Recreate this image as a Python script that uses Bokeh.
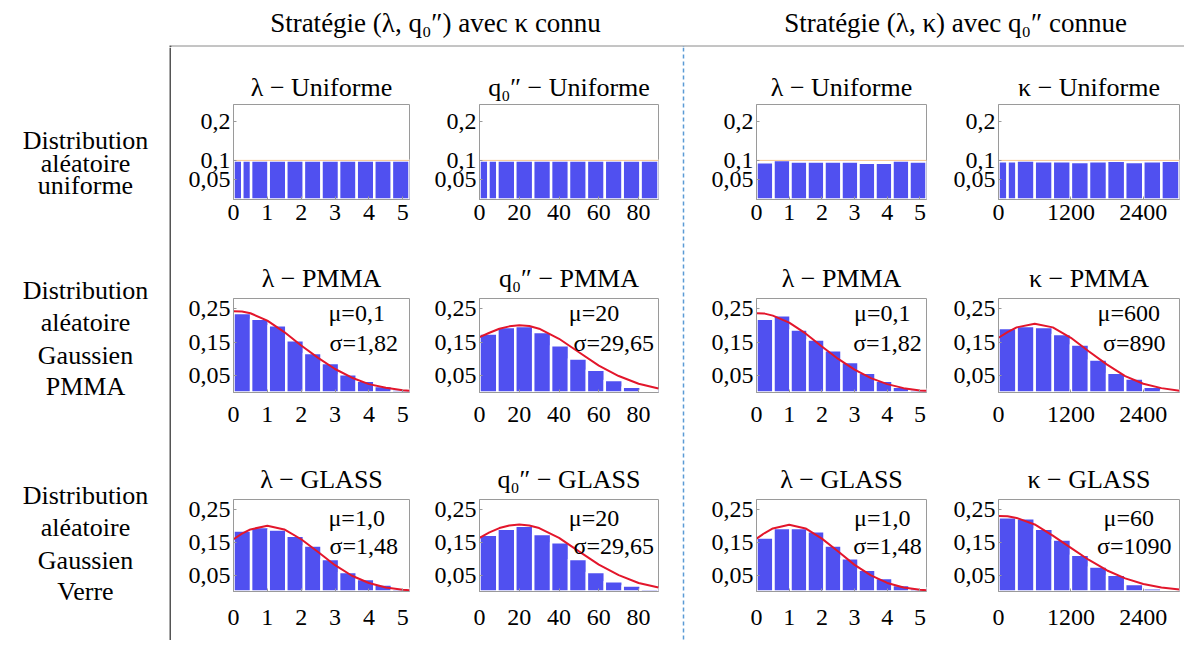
from bokeh.plotting import figure
from bokeh.layouts import row, column
from bokeh.models import Range1d, FixedTicker, CustomJSTickFormatter, Label
from bokeh.embed import file_html
from bokeh.resources import INLINE

FONT = "Liberation Serif"
BLUE = "#5050f0"
RED = "#e3162b"
GRAY = "#9a9a9a"

# ---------------- data ----------------
header_texts = ["Stratégie (λ, q₀″) avec κ connu", "Stratégie (λ, κ) avec q₀″ connue"]
row_labels = [["Distribution", "aléatoire", "uniforme"],
              ["Distribution", "aléatoire", "Gaussien", "PMMA"],
              ["Distribution", "aléatoire", "Gaussien", "Verre"]]

lam_edges = [0, 0.52, 1.04, 1.56, 2.08, 2.6, 3.12, 3.64, 4.16, 4.68, 5.2]
lam_edges_split = [0, 0.26, 0.52, 1.04, 1.56, 2.08, 2.6, 3.12, 3.64, 4.16, 4.68, 5.2]
q_edges = [0, 9, 18, 27, 36, 45, 54, 63, 72, 81, 90]
q_edges_split = [0, 4.5, 9, 18, 27, 36, 45, 54, 63, 72, 81, 90]
k_edges = [0, 300, 600, 900, 1200, 1500, 1800, 2100, 2400, 2700, 3000]
k_edges_split = [0, 150, 300, 600, 900, 1200, 1500, 1800, 2100, 2400, 2700, 3000]

lam_ticks = [0, 1, 2, 3, 4, 5]
q_ticks = [0, 20, 40, 60, 80]
k_ticks = [0, 1200, 2400]

uni_lam_l = [0.1, 0.1, 0.1, 0.1, 0.1, 0.1, 0.1, 0.1, 0.1, 0.1, 0.1]
uni_q = [0.1, 0.1, 0.1, 0.1, 0.1, 0.1, 0.1, 0.1, 0.1, 0.1, 0.1]
uni_lam_r = [0.095, 0.101, 0.097, 0.097, 0.097, 0.097, 0.094, 0.094, 0.1, 0.097]
uni_k = [0.098, 0.098, 0.1, 0.098, 0.098, 0.096, 0.098, 0.099, 0.096, 0.098, 0.099]

pmma_lam_l = [0.237, 0.220, 0.200, 0.156, 0.118, 0.088, 0.054, 0.035, 0.019, 0.009]
pmma_q = [0.176, 0.195, 0.198, 0.180, 0.141, 0.101, 0.068, 0.037, 0.017, 0.007]
pmma_lam_r = [0.220, 0.230, 0.188, 0.158, 0.126, 0.091, 0.059, 0.035, 0.017, 0.009]
pmma_k = [0.192, 0.198, 0.195, 0.174, 0.143, 0.098, 0.059, 0.042, 0.017, 0.007]

glass_lam_l = [0.186, 0.196, 0.189, 0.170, 0.140, 0.099, 0.059, 0.038, 0.021, 0.008]
glass_q = [0.173, 0.191, 0.200, 0.175, 0.150, 0.099, 0.059, 0.031, 0.018, 0.008]
glass_lam_r = [0.164, 0.193, 0.193, 0.183, 0.140, 0.101, 0.066, 0.041, 0.020, 0.010]
glass_k = [0.226, 0.223, 0.191, 0.158, 0.112, 0.076, 0.051, 0.023, 0.010, 0.006]

uni_pdf = [0.1, 0.1]

lam_curve_x = [0, 0.25, 0.5, 1, 1.5, 2, 2.5, 3, 3.5, 4, 4.5, 5, 5.2]
q_curve_x = [0, 5, 10, 15, 20, 25, 30, 40, 50, 60, 70, 80, 90]
k_curve_x = [0, 150, 300, 600, 900, 1200, 1500, 1800, 2100, 2400, 2700, 3000]

pmma_lam_l_fit = [0.242, 0.241, 0.236, 0.214, 0.18, 0.14, 0.103, 0.07, 0.044, 0.025, 0.014, 0.007, 0.005]
pmma_q_fit = [0.165, 0.178, 0.19, 0.197, 0.2, 0.198, 0.19, 0.16, 0.12, 0.08, 0.049, 0.026, 0.012]
pmma_lam_r_fit = [0.236, 0.235, 0.229, 0.208, 0.176, 0.137, 0.1, 0.068, 0.043, 0.025, 0.013, 0.006, 0.005]
pmma_k_fit = [0.163, 0.18, 0.194, 0.205, 0.194, 0.163, 0.122, 0.083, 0.049, 0.026, 0.013, 0.005]

glass_lam_l_fit = [0.159, 0.176, 0.189, 0.2, 0.189, 0.159, 0.120, 0.080, 0.048, 0.026, 0.012, 0.005, 0.004]
glass_q_fit = [0.163, 0.18, 0.193, 0.201, 0.204, 0.201, 0.193, 0.163, 0.122, 0.082, 0.05, 0.026, 0.012]
glass_lam_r_fit = [0.161, 0.178, 0.192, 0.203, 0.192, 0.161, 0.122, 0.081, 0.049, 0.026, 0.012, 0.005, 0.004]
glass_k_fit = [0.23, 0.229, 0.224, 0.204, 0.17, 0.133, 0.096, 0.064, 0.04, 0.023, 0.012, 0.006]

pmma_stats = [("μ=0,1", "σ=1,82"), ("μ=20", "σ=29,65"), ("μ=0,1", "σ=1,82"), ("μ=600", "σ=890")]
glass_stats = [("μ=1,0", "σ=1,48"), ("μ=20", "σ=29,65"), ("μ=1,0", "σ=1,48"), ("μ=60", "σ=1090")]

# ---------------- layout parameters ----------------
cols = [
    dict(w=247, ml=62, mr=9, xr=(0, 5.2), ticks=lam_ticks, mu_fx=0.70, sg_fx=0.74),
    dict(w=262, ml=61, mr=22, xr=(0, 90), ticks=q_ticks, mu_fx=0.64, sg_fx=0.75),
    dict(w=249, ml=70, mr=9, xr=(0, 5.2), ticks=lam_ticks, mu_fx=0.74, sg_fx=0.77),
    dict(w=249, ml=63, mr=5, xr=(0, 3000), ticks=k_ticks, mu_fx=0.72, sg_fx=0.75),
]
rows_p = [
    dict(h=188, mt=57, mb=36, yr=(0, 0.243), yticks=[0.05, 0.1, 0.2], xls=5, ts=5, mu_fy=0.85, sg_fy=0.53),
    dict(h=205, mt=63, mb=48, yr=(0, 0.28), yticks=[0.05, 0.15, 0.25], xls=14, ts=12, mu_fy=0.85, sg_fy=0.53),
    dict(h=200, mt=59, mb=49, yr=(0, 0.28), yticks=[0.05, 0.15, 0.25], xls=18, ts=11, mu_fy=0.80, sg_fy=0.50),
]

titles = [["λ − Uniforme", "q₀″ − Uniforme", "λ − Uniforme", "κ − Uniforme"],
          ["λ − PMMA", "q₀″ − PMMA", "λ − PMMA", "κ − PMMA"],
          ["λ − GLASS", "q₀″ − GLASS", "λ − GLASS", "κ − GLASS"]]
edges_grid = [[lam_edges_split, q_edges_split, lam_edges, k_edges_split],
              [lam_edges, q_edges, lam_edges, k_edges],
              [lam_edges, q_edges, lam_edges, k_edges]]
heights_grid = [[uni_lam_l, uni_q, uni_lam_r, uni_k],
                [pmma_lam_l, pmma_q, pmma_lam_r, pmma_k],
                [glass_lam_l, glass_q, glass_lam_r, glass_k]]
curve_x = [lam_curve_x, q_curve_x, lam_curve_x, k_curve_x]
fits_grid = [None,
             [pmma_lam_l_fit, pmma_q_fit, pmma_lam_r_fit, pmma_k_fit],
             [glass_lam_l_fit, glass_q_fit, glass_lam_r_fit, glass_k_fit]]
stats_grid = [None, pmma_stats, glass_stats]

comma_fmt = "return tick.toString().replace('.', ',');"


def make_chart(r, c):
    cp, rp = cols[c], rows_p[r]
    p = figure(width=cp["w"], height=rp["h"], x_range=Range1d(*cp["xr"]), y_range=Range1d(*rp["yr"]),
               output_backend="svg", toolbar_location=None,
               min_border_left=cp["ml"], min_border_right=cp["mr"],
               min_border_top=rp["mt"], min_border_bottom=rp["mb"])
    p.title.text = titles[r][c]
    p.title.text_font = FONT
    p.title.text_font_size = "26px"
    p.title.text_font_style = "normal"
    p.title.text_color = "black"
    p.title.align = "center"
    p.title.standoff = rp["ts"]
    p.xgrid.visible = False
    p.ygrid.visible = False
    p.outline_line_color = GRAY
    p.background_fill_color = "white"
    p.border_fill_color = "white"

    edges = edges_grid[r][c]
    p.quad(left=edges[:-1], right=edges[1:], bottom=0, top=heights_grid[r][c],
           fill_color=BLUE, fill_alpha=1.0, line_color="white", line_width=2.5)
    if fits_grid[r] is None:
        p.line(x=list(cp["xr"]), y=uni_pdf, line_color="#f0a040", line_width=1, line_alpha=0.6)
    else:
        p.line(x=curve_x[c], y=fits_grid[r][c], line_color=RED, line_width=2)
        mu, sg = stats_grid[r][c]
        x0, x1 = cp["xr"]
        y0, y1 = rp["yr"]
        for txt, fx, fy in ((mu, cp["mu_fx"], rp["mu_fy"]), (sg, cp["sg_fx"], rp["sg_fy"])):
            p.add_layout(Label(x=x0 + fx * (x1 - x0), y=y0 + fy * (y1 - y0), text=txt,
                               text_font=FONT, text_font_size="24px", text_color="black",
                               text_align="center", text_baseline="middle"))

    p.xaxis.ticker = FixedTicker(ticks=cp["ticks"], minor_ticks=[])
    p.yaxis.ticker = FixedTicker(ticks=rp["yticks"], minor_ticks=[])
    p.yaxis.formatter = CustomJSTickFormatter(code=comma_fmt)
    for ax in (p.xaxis, p.yaxis):
        ax.axis_line_color = GRAY
        ax.major_tick_line_color = GRAY
        ax.major_tick_in = 3
        ax.major_tick_out = 0
        ax.major_label_text_font = FONT
        ax.major_label_text_font_size = "24px"
        ax.major_label_text_color = "black"
    p.xaxis.major_label_standoff = rp["xls"]
    p.yaxis.major_label_standoff = 3
    return p


def blank(w, h, xr, yr):
    p = figure(width=w, height=h, x_range=Range1d(*xr), y_range=Range1d(*yr),
               x_axis_type=None, y_axis_type=None, output_backend="svg", toolbar_location=None,
               min_border_left=0, min_border_right=0, min_border_top=0, min_border_bottom=0)
    p.outline_line_color = None
    p.grid.visible = False
    p.background_fill_color = "white"
    p.border_fill_color = "white"
    return p


LEFT_W = 171
HEAD_H = 47
TOTAL_W = LEFT_W + sum(cp["w"] for cp in cols) + 6

# header
header = blank(TOTAL_W, HEAD_H, (0, TOTAL_W), (HEAD_H, 0))
for txt, xc in zip(header_texts, [435, 955]):
    header.add_layout(Label(x=xc, y=22, text=txt, text_font=FONT, text_font_size="27px",
                            text_color="black", text_align="center", text_baseline="middle"))
header.segment(x0=[LEFT_W], y0=[45.5], x1=[TOTAL_W], y1=[45.5], line_color="#8a8a8a", line_width=1)
header.segment(x0=[LEFT_W - 1], y0=[45], x1=[LEFT_W - 1], y1=[HEAD_H], line_color="#555555", line_width=2)
header.segment(x0=[683], y0=[46], x1=[683], y1=[HEAD_H], line_color="#5b9bd5", line_width=1.5)

# row labels
BODY_H = sum(rp["h"] for rp in rows_p)
labfig = blank(LEFT_W, BODY_H, (0, LEFT_W), (BODY_H, 0))
label_y = [[93, 116, 138], [243, 275, 308, 339], [448, 480, 513, 544]]
for lines, ys in zip(row_labels, label_y):
    for txt, yy in zip(lines, ys):
        labfig.add_layout(Label(x=85, y=yy, text=txt, text_font=FONT, text_font_size="26px",
                                text_color="black", text_align="center", text_baseline="middle"))
labfig.segment(x0=[LEFT_W - 1], y0=[0], x1=[LEFT_W - 1], y1=[BODY_H], line_color="#555555", line_width=2)

# dashed separator
sep = blank(6, BODY_H, (0, 6), (BODY_H, 0))
sep.segment(x0=[3], y0=[0], x1=[3], y1=[BODY_H], line_color="#5b9bd5", line_width=1.5, line_dash="4 3")

charts = [[make_chart(r, c) for c in range(4)] for r in range(3)]
left_block = column(*[row(charts[r][0], charts[r][1]) for r in range(3)])
right_block = column(*[row(charts[r][2], charts[r][3]) for r in range(3)])
body = row(labfig, left_block, sep, right_block)
page = column(header, body)

open("out.html", "w").write(file_html(page, INLINE))
